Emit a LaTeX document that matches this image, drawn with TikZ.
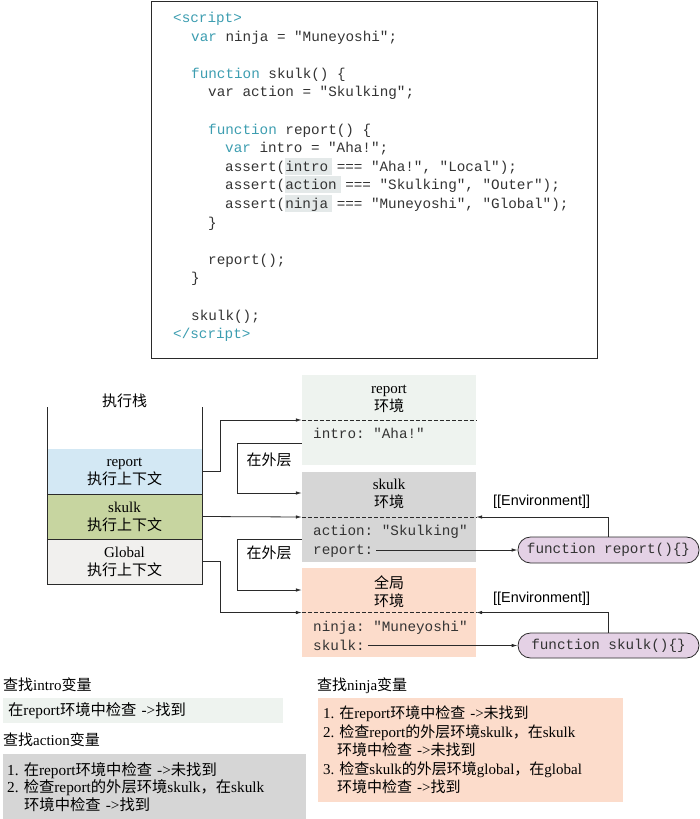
\documentclass[tikz,border=0pt]{standalone}
\usepackage{fontspec}
\setmainfont{Liberation Serif}
\setsansfont{Liberation Sans}
\setmonofont{Liberation Mono}
\newfontfamily\cjk{Noto Sans CJK SC}
\usetikzlibrary{arrows.meta}
\frenchspacing

\definecolor{keyteal}{HTML}{3C9DB0}
\definecolor{hlgray}{HTML}{E4E9E9}
\definecolor{codetext}{HTML}{333333}
\definecolor{linedark}{HTML}{2A2A2A}
\definecolor{stackblue}{HTML}{D3E8F4}
\definecolor{stackgreen}{HTML}{C7D5A0}
\definecolor{stackgray}{HTML}{F1F0EE}
\definecolor{envgreen}{HTML}{EEF3EF}
\definecolor{envgray}{HTML}{D6D6D6}
\definecolor{envpeach}{HTML}{FCDCCB}
\definecolor{pillpurple}{HTML}{E4D1E5}

\newcommand\zh[1]{{\cjk #1}}
\newcommand\kw[1]{\textcolor{keyteal}{#1}}
\newcommand\hl[1]{\rlap{\setlength{\fboxsep}{0pt}\colorbox{hlgray}{\rule[-3.5pt]{0pt}{17pt}\phantom{#1}\hspace{4pt}}}#1}

\begin{document}
\begin{tikzpicture}[x=1pt,y=-1pt,
	codeline/.style={anchor=base west,inner sep=0pt,text=codetext,font=\ttfamily\fontsize{14.3}{17}\selectfont},
	stackbox/.style={minimum width=155pt,minimum height=45pt,inner sep=0pt,align=center,font=\fontsize{15}{18}\selectfont},
	envbox/.style={minimum width=174pt,minimum height=90pt,inner sep=0pt},
	envtitle/.style={align=center,inner sep=0pt,font=\fontsize{15}{18}\selectfont},
	fnpill/.style={draw=linedark,line width=0.8pt,fill=pillpurple,rounded corners=12.5pt,minimum width=181pt,minimum height=26pt,inner sep=0pt,text=codetext,font=\ttfamily\fontsize{14.3}{17}\selectfont},
	findbox/.style={anchor=north west,inner ysep=0pt,align=left,font=\fontsize{15.3}{17.5}\selectfont},
	heading/.style={anchor=base west,inner sep=0pt,font=\fontsize{15}{18}\selectfont},
	arr/.style={draw=linedark,line width=0.8pt,-{Latex[length=6pt,width=3.5pt]}}]
	\useasboundingbox (0,0) rectangle (700,819);
		%code listing
			\draw[draw=linedark,line width=1pt] (151,1) rectangle (597,358);
			\node[codeline] (l1) at (173,22.5) {\kw{<script>}};
			\node[codeline] (l2) at (191,41.1) {\kw{var} ninja = "Muneyoshi";};
			\node[codeline] (l4) at (191,78.3) {\kw{function} skulk() \{};
			\node[codeline] (l5) at (208,96.9) {var action = "Skulking";};
			\node[codeline] (l7) at (208,134.1) {\kw{function} report() \{};
			\node[codeline] (l8) at (225,152.7) {\kw{var} intro = "Aha!";};
			\node[codeline] (l9) at (225,171.3) {assert(\hl{intro} === "Aha!", "Local");};
			\node[codeline] (l10) at (225,189.9) {assert(\hl{action} === "Skulking", "Outer");};
			\node[codeline] (l11) at (225,208.5) {assert(\hl{ninja} === "Muneyoshi", "Global");};
			\node[codeline] (l12) at (208,227.1) {\}};
			\node[codeline] (l14) at (208,264.3) {report();};
			\node[codeline] (l15) at (191,282.9) {\}};
			\node[codeline] (l17) at (191,320.1) {skulk();};
			\node[codeline] (l18) at (173,338.7) {\kw{</script>}};
		%execution stack
			\node[font=\cjk\fontsize{15}{18}\selectfont] (stacktitle) at (124.5,401) {执行栈};
			\node[stackbox,fill=stackblue] (sreport) at (124.5,471.5) {report\\\zh{执行上下文}};
			\node[stackbox,fill=stackgreen] (sskulk) at (124.5,516.5) {skulk\\\zh{执行上下文}};
			\node[stackbox,fill=stackgray] (sglobal) at (124.5,561.5) {Global\\\zh{执行上下文}};
			\draw[draw=linedark,line width=0.9pt] (47,407) -- (47,584) -- (202,584) -- (202,407);
			\draw[draw=linedark,line width=0.9pt] (sreport.south west) -- (sreport.south east);
			\draw[draw=linedark,line width=0.9pt] (sskulk.south west) -- (sskulk.south east);
		%environments
			\node[envbox,fill=envgreen] (renv) at (389,420) {};
			\node[envbox,fill=envgray] (senv) at (389,517) {};
			\node[envbox,fill=envpeach,minimum height=89pt] (genv) at (389,612.5) {};
			\draw[draw=linedark,line width=0.8pt,dash pattern=on 4pt off 2pt] (renv.west) -- (renv.east);
			\draw[draw=linedark,line width=0.8pt,dash pattern=on 4pt off 2pt] (senv.west) -- (senv.east);
			\draw[draw=linedark,line width=0.8pt,dash pattern=on 4pt off 2pt] (genv.west) -- (genv.east);
			\node[envtitle] (rtitle) at (389,399) {report\\\zh{环境}};
			\node[envtitle] (stitle) at (389,494) {skulk\\\zh{环境}};
			\node[envtitle] (gtitle) at (389,591.5) {\zh{全局}\\\zh{环境}};
			\node[codeline] (vintro) at (313,438.5) {intro: "Aha!"};
			\node[codeline] (vaction) at (313,535.5) {action: "Skulking"};
			\node[codeline] (vreport) at (313,554.5) {report:};
			\node[codeline] (vninja) at (313,631.5) {ninja: "Muneyoshi"};
			\node[codeline] (vskulk) at (313,650.5) {skulk:};
		%function objects
			\node[fnpill] (fnreport) at (608.5,550) {function report()\{\}};
			\node[fnpill,minimum height=25pt] (fnskulk) at (608.5,645.5) {function skulk()\{\}};
			\node[anchor=base west,inner sep=0pt,font=\sffamily\fontsize{14.4}{17}\selectfont] (envlab1) at (493,505) {[[Environment]]};
			\node[anchor=base west,inner sep=0pt,font=\sffamily\fontsize{14.4}{17}\selectfont] (envlab2) at (493,602) {[[Environment]]};
		%connectors
			\draw[arr] (sreport.east) -- ++(18,0) |- (renv.west);
			\draw[arr] (sskulk.east) -- (senv.west);
			\draw[arr] (sglobal.east) -- ++(18,0) |- (genv.west);
			\draw[arr] ([yshift=-23pt]renv.west) -- ++(-64,0) |- ([yshift=24pt]senv.west);
			\draw[arr] ([yshift=-22pt]senv.west) -- ++(-64,0) |- ([yshift=22.5pt]genv.west);
			\node[font=\cjk\fontsize{15}{18}\selectfont] (outer1) at (269,460) {在外层};
			\node[font=\cjk\fontsize{15}{18}\selectfont] (outer2) at (269,553) {在外层};
			\draw[arr,shorten <=3pt] (vreport.east |- fnreport.west) -- (fnreport.west);
			\draw[arr,shorten <=3pt] (vskulk.east |- fnskulk.west) -- (fnskulk.west);
			\draw[arr] (fnreport.north) |- (senv.east);
			\draw[arr] (fnskulk.north) |- (genv.east);
		%lookups
			\node[heading] (headintro) at (3,690.5) {\zh{查找}intro\zh{变量}};
			\node[findbox,fill=envgreen,minimum height=25pt,inner xsep=5pt,text width=270pt] (findintro) at (3,698) {\zh{在}report\zh{环境中检查} ->\zh{找到}};
			\node[heading] (headaction) at (3,745.5) {\zh{查找}action\zh{变量}};
			\node[findbox,fill=envgray,minimum height=65pt,inner xsep=4pt,text width=295pt] (findaction) at (3,754) {1. \zh{在}report\zh{环境中检查} ->\zh{未找到}\\
				2. \zh{检查}report\zh{的外层环境}skulk\zh{，在}skulk\\
				\hspace*{17pt}\zh{环境中检查} ->\zh{找到}};
			\node[heading] (headninja) at (317,690.5) {\zh{查找}ninja\zh{变量}};
			\node[findbox,fill=envpeach,minimum height=104pt,inner xsep=5pt,text width=295pt,font=\fontsize{15}{18.5}\selectfont] (findninja) at (318,698) {1. \zh{在}report\zh{环境中检查} ->\zh{未找到}\\
				2. \zh{检查}report\zh{的外层环境}skulk\zh{，在}skulk\\
				\hspace*{14pt}\zh{环境中检查} ->\zh{未找到}\\
				3. \zh{检查}skulk\zh{的外层环境}global\zh{，在}global\\
				\hspace*{14pt}\zh{环境中检查} ->\zh{找到}};
	\end{tikzpicture}
\end{document}
